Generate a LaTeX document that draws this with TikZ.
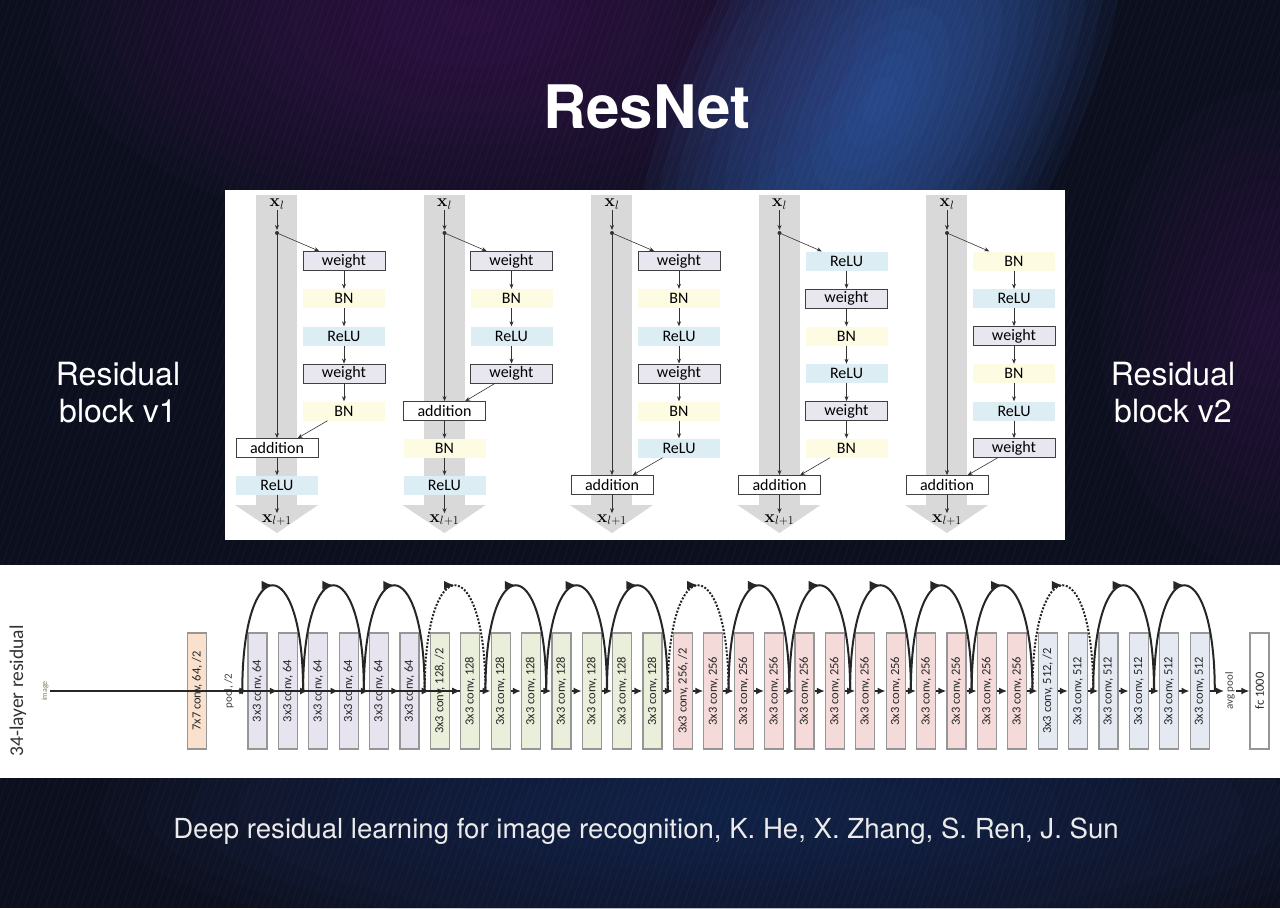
\documentclass[tikz,border=0pt]{standalone}
\usepackage[no-math]{fontspec}
\setmainfont{TeX Gyre Heros}
\newfontfamily\figfont{Carlito}
\usetikzlibrary{arrows.meta, calc, decorations.markings}

\definecolor{bgbase}{RGB}{12,15,30}
\definecolor{glowblue}{RGB}{56,98,180}
\definecolor{glowpurple}{RGB}{66,30,86}
\definecolor{glownavy}{RGB}{30,50,100}
\definecolor{bandgray}{RGB}{217,217,217}
\definecolor{wtfill}{RGB}{232,230,239}
\definecolor{bnfill}{RGB}{253,251,226}
\definecolor{relufill}{RGB}{221,237,244}
\definecolor{edgegray}{RGB}{64,64,64}
\definecolor{convedge}{RGB}{150,150,150}
\definecolor{cfirst}{RGB}{250,225,205}
\definecolor{c64}{RGB}{231,228,240}
\definecolor{c128}{RGB}{233,239,218}
\definecolor{c256}{RGB}{245,218,218}
\definecolor{c512}{RGB}{228,233,242}

\tikzset{
  layerbox/.style={minimum width=82pt, minimum height=19pt, inner sep=0pt,
    font=\figfont\fontsize{16}{16}\selectfont},
  wtbox/.style={layerbox, draw=edgegray, line width=0.8pt, fill=wtfill},
  bnbox/.style={layerbox, fill=bnfill},
  relubox/.style={layerbox, fill=relufill},
  addbox/.style={layerbox, draw=edgegray, line width=0.8pt, fill=white},
  xname/.style={inner sep=1pt, font=\fontsize{17}{17}\selectfont},
  linkarrow/.style={-{Stealth[length=5pt, width=4pt]}, line width=0.6pt, draw=black!80},
  convbox/.style={draw=convedge, line width=1.2pt, minimum width=116pt, minimum height=19pt,
    inner sep=0pt, rotate=90, font=\figfont\fontsize{12.5}{12.5}\selectfont, text=black!85},
  sidetext/.style={rotate=90, inner sep=1pt, font=\figfont\fontsize{11}{11}\selectfont, text=black!75},
  flowarrow/.style={-{Latex[length=8pt, width=7pt]}, line width=1.6pt, draw=black!85},
  shortcutarc/.style={line width=2pt, draw=black!85, postaction={decorate},
    decoration={markings, mark=at position 0.5 with {\arrow{Latex[length=11pt, width=9pt]}}}},
  glowstep/.style={opacity=0.07},
  slidetext/.style={text=white, align=center}
}

\begin{document}
\begin{tikzpicture}[x=1pt, y=-1pt]
\useasboundingbox (0,0) rectangle (1280,908);

% background
\begin{scope}
  \clip (0,0) rectangle (1280,908);
  \fill[bgbase] (0,0) rectangle (1280,908);
  \foreach \f in {1,...,14} {
    \fill[glowpurple, glowstep] (470,20) ellipse ({420*\f/14} and {220*\f/14});
    \fill[glowblue, glowstep, opacity=0.09, rotate around={-30:(880,100)}] (880,100) ellipse ({190*\f/14} and {360*\f/14});
    \fill[glownavy, glowstep] (740,810) ellipse ({640*\f/14} and {150*\f/14});
  }
  \foreach \f in {1,...,8}
    \fill[glowpurple, glowstep] (1270,330) ellipse ({170*\f/8} and {240*\f/8});
  \foreach \s in {-340,-333,...,1280}
    \draw[white, opacity=0.035, line width=0.8pt] (\s,908) -- ({\s+330},0);
\end{scope}

% slide texts
\node[slidetext, font=\bfseries\fontsize{60}{60}\selectfont] (title) at (647,107) {ResNet};
\node[slidetext, font=\fontsize{32}{37}\selectfont] (vone) at (118,393) {Residual\\block v1};
\node[slidetext, font=\fontsize{32}{37}\selectfont] (vtwo) at (1173,393) {Residual\\block v2};
\node[slidetext, text=white!92!black, font=\fontsize{27.6}{29}\selectfont] (cite) at (646,831)
  {Deep residual learning for image recognition, K. He, X. Zhang, S. Ren, J. Sun};

% panels
\fill[white] (225,190) rectangle (1065,540);
\fill[white] (0,565) rectangle (1280,778);

% block v1
\begin{scope}[xshift=277pt]
  \fill[bandgray] (-21,195) rectangle (20,505);
  \fill[bandgray] (-42,505) -- (41,505) -- (0,533) -- cycle;
  \node[xname] (a-in) at (0,204) {$\mathbf{x}_l$};
  \coordinate (a-s) at (0,233);
  \node[wtbox] (a-1) at (67,261) {weight};
  \node[bnbox] (a-2) at (67,298.5) {BN};
  \node[relubox] (a-3) at (67,336) {ReLU};
  \node[wtbox] (a-4) at (67,373.5) {weight};
  \node[bnbox] (a-5) at (67,411) {BN};
  \node[addbox] (a-add) at (0,448) {addition};
  \node[relubox] (a-6) at (0,485) {ReLU};
  \node[xname] (a-out) at (0,520) {$\mathbf{x}_{l+1}$};
  \draw[linkarrow, shorten >=3pt] (a-in) -- (a-s);
  \fill[black!80] (a-s) circle (2);
  \draw[linkarrow] (a-s) -- ($(a-1.north west)!0.2!(a-1.north east)$);
  \draw[linkarrow] (a-1) -- (a-2);
  \draw[linkarrow] (a-2) -- (a-3);
  \draw[linkarrow] (a-3) -- (a-4);
  \draw[linkarrow] (a-4) -- (a-5);
  \draw[linkarrow] ($(a-5.south west)!0.3!(a-5.south east)$) -- ($(a-add.north east)!0.25!(a-add.north west)$);
  \draw[linkarrow] (a-s) -- (a-add);
  \draw[linkarrow] (a-add) -- (a-6);
  \draw[linkarrow] (a-6) -- (a-out);
\end{scope}

% block with BN after addition
\begin{scope}[xshift=444.5pt]
  \fill[bandgray] (-21,195) rectangle (20,505);
  \fill[bandgray] (-42,505) -- (41,505) -- (0,533) -- cycle;
  \node[xname] (b-in) at (0,204) {$\mathbf{x}_l$};
  \coordinate (b-s) at (0,233);
  \node[wtbox] (b-1) at (67,261) {weight};
  \node[bnbox] (b-2) at (67,298.5) {BN};
  \node[relubox] (b-3) at (67,336) {ReLU};
  \node[wtbox] (b-4) at (67,373.5) {weight};
  \node[addbox] (b-add) at (0,411) {addition};
  \node[bnbox] (b-5) at (0,448) {BN};
  \node[relubox] (b-6) at (0,485) {ReLU};
  \node[xname] (b-out) at (0,520) {$\mathbf{x}_{l+1}$};
  \draw[linkarrow, shorten >=3pt] (b-in) -- (b-s);
  \fill[black!80] (b-s) circle (2);
  \draw[linkarrow] (b-s) -- ($(b-1.north west)!0.2!(b-1.north east)$);
  \draw[linkarrow] (b-1) -- (b-2);
  \draw[linkarrow] (b-2) -- (b-3);
  \draw[linkarrow] (b-3) -- (b-4);
  \draw[linkarrow] ($(b-4.south west)!0.3!(b-4.south east)$) -- ($(b-add.north east)!0.25!(b-add.north west)$);
  \draw[linkarrow] (b-s) -- (b-add);
  \draw[linkarrow] (b-add) -- (b-5);
  \draw[linkarrow] (b-5) -- (b-6);
  \draw[linkarrow] (b-6) -- (b-out);
\end{scope}

% block with ReLU before addition
\begin{scope}[xshift=612pt]
  \fill[bandgray] (-21,195) rectangle (20,505);
  \fill[bandgray] (-42,505) -- (41,505) -- (0,533) -- cycle;
  \node[xname] (c-in) at (0,204) {$\mathbf{x}_l$};
  \coordinate (c-s) at (0,233);
  \node[wtbox] (c-1) at (67,261) {weight};
  \node[bnbox] (c-2) at (67,298.5) {BN};
  \node[relubox] (c-3) at (67,336) {ReLU};
  \node[wtbox] (c-4) at (67,373.5) {weight};
  \node[bnbox] (c-5) at (67,411) {BN};
  \node[relubox] (c-6) at (67,448) {ReLU};
  \node[addbox] (c-add) at (0,485) {addition};
  \node[xname] (c-out) at (0,520) {$\mathbf{x}_{l+1}$};
  \draw[linkarrow, shorten >=3pt] (c-in) -- (c-s);
  \fill[black!80] (c-s) circle (2);
  \draw[linkarrow] (c-s) -- ($(c-1.north west)!0.2!(c-1.north east)$);
  \draw[linkarrow] (c-1) -- (c-2);
  \draw[linkarrow] (c-2) -- (c-3);
  \draw[linkarrow] (c-3) -- (c-4);
  \draw[linkarrow] (c-4) -- (c-5);
  \draw[linkarrow] (c-5) -- (c-6);
  \draw[linkarrow] ($(c-6.south west)!0.3!(c-6.south east)$) -- ($(c-add.north east)!0.25!(c-add.north west)$);
  \draw[linkarrow] (c-s) -- (c-add);
  \draw[linkarrow] (c-add) -- (c-out);
\end{scope}

% block with ReLU first
\begin{scope}[xshift=779.5pt]
  \fill[bandgray] (-21,195) rectangle (20,505);
  \fill[bandgray] (-42,505) -- (41,505) -- (0,533) -- cycle;
  \node[xname] (d-in) at (0,204) {$\mathbf{x}_l$};
  \coordinate (d-s) at (0,233);
  \node[relubox] (d-1) at (67,261) {ReLU};
  \node[wtbox] (d-2) at (67,298.5) {weight};
  \node[bnbox] (d-3) at (67,336) {BN};
  \node[relubox] (d-4) at (67,373.5) {ReLU};
  \node[wtbox] (d-5) at (67,411) {weight};
  \node[bnbox] (d-6) at (67,448) {BN};
  \node[addbox] (d-add) at (0,485) {addition};
  \node[xname] (d-out) at (0,520) {$\mathbf{x}_{l+1}$};
  \draw[linkarrow, shorten >=3pt] (d-in) -- (d-s);
  \fill[black!80] (d-s) circle (2);
  \draw[linkarrow] (d-s) -- ($(d-1.north west)!0.2!(d-1.north east)$);
  \draw[linkarrow] (d-1) -- (d-2);
  \draw[linkarrow] (d-2) -- (d-3);
  \draw[linkarrow] (d-3) -- (d-4);
  \draw[linkarrow] (d-4) -- (d-5);
  \draw[linkarrow] (d-5) -- (d-6);
  \draw[linkarrow] ($(d-6.south west)!0.3!(d-6.south east)$) -- ($(d-add.north east)!0.25!(d-add.north west)$);
  \draw[linkarrow] (d-s) -- (d-add);
  \draw[linkarrow] (d-add) -- (d-out);
\end{scope}

% block v2, full pre-activation
\begin{scope}[xshift=947pt]
  \fill[bandgray] (-21,195) rectangle (20,505);
  \fill[bandgray] (-42,505) -- (41,505) -- (0,533) -- cycle;
  \node[xname] (e-in) at (0,204) {$\mathbf{x}_l$};
  \coordinate (e-s) at (0,233);
  \node[bnbox] (e-1) at (67,261) {BN};
  \node[relubox] (e-2) at (67,298.5) {ReLU};
  \node[wtbox] (e-3) at (67,336) {weight};
  \node[bnbox] (e-4) at (67,373.5) {BN};
  \node[relubox] (e-5) at (67,411) {ReLU};
  \node[wtbox] (e-6) at (67,448) {weight};
  \node[addbox] (e-add) at (0,485) {addition};
  \node[xname] (e-out) at (0,520) {$\mathbf{x}_{l+1}$};
  \draw[linkarrow, shorten >=3pt] (e-in) -- (e-s);
  \fill[black!80] (e-s) circle (2);
  \draw[linkarrow] (e-s) -- ($(e-1.north west)!0.2!(e-1.north east)$);
  \draw[linkarrow] (e-1) -- (e-2);
  \draw[linkarrow] (e-2) -- (e-3);
  \draw[linkarrow] (e-3) -- (e-4);
  \draw[linkarrow] (e-4) -- (e-5);
  \draw[linkarrow] (e-5) -- (e-6);
  \draw[linkarrow] ($(e-6.south west)!0.3!(e-6.south east)$) -- ($(e-add.north east)!0.25!(e-add.north west)$);
  \draw[linkarrow] (e-s) -- (e-add);
  \draw[linkarrow] (e-add) -- (e-out);
\end{scope}

% 34-layer network
\node[rotate=90, font=\figfont\fontsize{19.5}{20}\selectfont, text=black!80] (netname) at (18,691) {34-layer residual};
\node[sidetext, font=\figfont\fontsize{8}{8}\selectfont, text={rgb,255:red,120;green,130;blue,100}] (img) at (45,691) {image};
\node[convbox, fill=cfirst] (c7) at (197,691) {7x7 conv, 64, /2};
\node[sidetext] (pool) at (229,691) {pool, /2};
\foreach \lab/\col [count=\i from 0] in {64/c64, 64/c64, 64/c64, 64/c64, 64/c64, 64/c64,
    {128, /2}/c128, 128/c128, 128/c128, 128/c128, 128/c128, 128/c128, 128/c128, 128/c128,
    {256, /2}/c256, 256/c256, 256/c256, 256/c256, 256/c256, 256/c256,
    256/c256, 256/c256, 256/c256, 256/c256, 256/c256, 256/c256,
    {512, /2}/c512, 512/c512, 512/c512, 512/c512, 512/c512, 512/c512}
  \node[convbox, fill=\col] (c\i) at ({257.5+30.39*\i},691) {3x3 conv, \lab};
\node[sidetext] (avg) at (1230,691) {avg pool};
\node[convbox, fill=white] (fc) at (1259.5,691) {fc 1000};

\draw[flowarrow] (img) -- (c7);
\draw[flowarrow] (c7) -- (pool);
\draw[flowarrow] (pool) -- (c0);
\foreach \i [remember=\i as \j (initially 0)] in {1,...,31}
  \draw[flowarrow] (c\j) -- (c\i);
\draw[flowarrow] (c31) -- (avg);
\draw[flowarrow] (avg) -- (fc);

% shortcut connections
\foreach \k in {0,...,16}
  \coordinate (j\k) at ({242.3+60.78*\k},691);
\foreach \k/\n in {0/1,1/2,2/3,4/5,5/6,6/7,8/9,9/10,10/11,11/12,12/13,14/15,15/16}
  \draw[shortcutarc] (j\k) .. controls +(0,-141) and +(0,-141) .. (j\n);
\foreach \k/\n in {3/4,7/8,13/14}
  \draw[shortcutarc, dash pattern=on 2pt off 1.6pt] (j\k) .. controls +(0,-141) and +(0,-141) .. (j\n);
\end{tikzpicture}
\end{document}
